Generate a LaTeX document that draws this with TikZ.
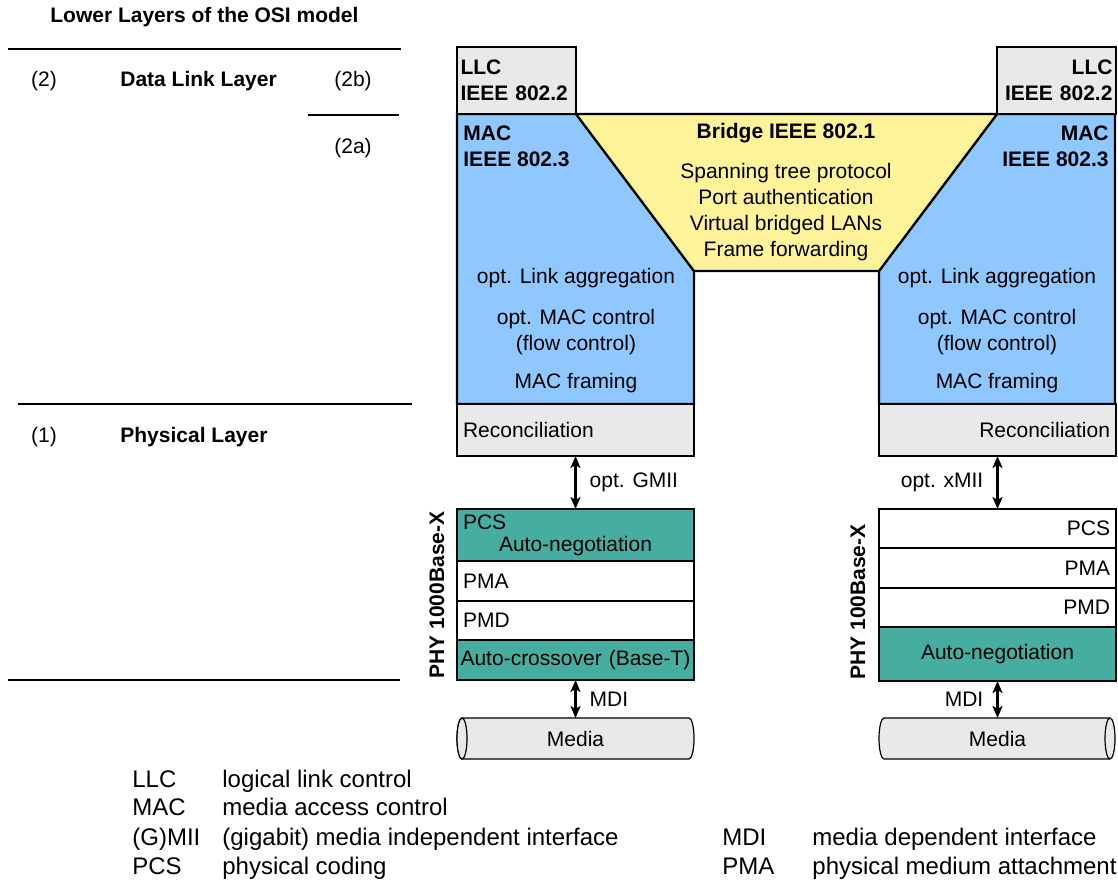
\documentclass[tikz,border=0pt]{standalone}
\usepackage{fontspec}
\setmainfont{Liberation Sans}
\usetikzlibrary{arrows.meta}
\definecolor{llcgray}{RGB}{233,233,233}
\definecolor{macblue}{RGB}{143,199,255}
\definecolor{bridgeyellow}{RGB}{255,243,153}
\definecolor{phyteal}{RGB}{70,174,160}
\tikzset{
  osi_txt/.style = {inner sep=0pt, font=\fontsize{10.5}{13}\selectfont},
  osi_bold/.style = {osi_txt, font=\fontsize{10.5}{13}\selectfont\bfseries},
  layer/.style = {draw=black, line width=1.1pt, anchor=north west,
    inner xsep=3pt, inner ysep=2pt, outer sep=0pt, text width=112.5pt,
    font=\fontsize{10.5}{13}\selectfont},
  layer_l/.style = {layer, align=left, minimum height=#1},% texte a gauche
  layer_r/.style = {layer, align=right, minimum height=#1},% texte a droite
  layer_c/.style = {layer, align=center, minimum height=#1},
  llc/.style = {layer, text width=56pt, inner xsep=1.75pt, minimum height=33.5pt,
    fill=llcgray, font=\fontsize{10.5}{13}\selectfont\bfseries},
  media/.style = {inner sep=0pt, outer sep=0pt, anchor=north west,
    minimum width=118.5pt, minimum height=20.5pt,
    font=\fontsize{10.5}{13}\selectfont},
  cyl/.style = {fill=llcgray, draw=black, line width=0.6pt},
  link/.style = {{Stealth[length=6pt, width=5pt, inset=1.5pt]}-{Stealth[length=6pt, width=5pt, inset=1.5pt]},
    line width=1.2pt},
  rule/.style = {line width=1.1pt},
  legend/.style = {anchor=base west, inner sep=0pt,
    font=\fontsize{12}{14}\selectfont}
}

\begin{document}
\begin{tikzpicture}[x=0.5pt, y=-0.5pt]
\useasboundingbox (0,0) rectangle (1118,879);

% OSI column
\node [osi_bold, anchor=west] (title) at (50,17) {Lower Layers of the OSI model};
\draw [rule] (8,49) -- (401,49);
\node [osi_txt] (l2) at (44,81) {(2)};
\node [osi_bold, anchor=west] (dll) at (120,81) {Data Link Layer};
\node [osi_txt] (l2b) at (353,81) {(2b)};
\draw [rule] (308,115) -- (399,115);
\node [osi_txt] (l2a) at (353,148) {(2a)};
\draw [rule] (18,404) -- (412,404);
\node [osi_txt] (l1) at (44,437) {(1)};
\node [osi_bold, anchor=west] (phl) at (120,437) {Physical Layer};
\draw [rule] (8,680) -- (400,680);

% MAC and bridge
\draw [fill=macblue, line width=1.1pt] (457,114) -- (576,114) -- (694,271)
  -- (694,404) -- (457,404) -- cycle;
\draw [fill=macblue, line width=1.1pt] (1115,114) -- (997,114) -- (879,271)
  -- (879,404) -- (1115,404) -- cycle;
\draw [fill=bridgeyellow, line width=1.1pt] (576,114) -- (997,114)
  -- (879,271) -- (694,271) -- cycle;

\node [llc, align=left] (llcL) at (457,47) {LLC\\IEEE 802.2};
\node [llc, align=right] (llcR) at (997,47) {LLC\\IEEE 802.2};

\node [osi_bold, anchor=west, align=left] (macL) at (463,146) {MAC\\IEEE 802.3};
\node [osi_bold, anchor=east, align=right] (macR) at (1109,146) {MAC\\IEEE 802.3};
\node [osi_bold] (bridge) at (786,133) {Bridge IEEE 802.1};
\node [osi_txt, align=center] (bridgefn) at (786,212)
  {Spanning tree protocol\\Port authentication\\Virtual bridged LANs\\Frame forwarding};

\node [osi_txt] (aggL) at (576,278) {opt. Link aggregation};
\node [osi_txt, align=center] (ctrlL) at (576,332) {opt. MAC control\\(flow control)};
\node [osi_txt] (frmL) at (576,383) {MAC framing};
\node [osi_txt] (aggR) at (997,278) {opt. Link aggregation};
\node [osi_txt, align=center] (ctrlR) at (997,332) {opt. MAC control\\(flow control)};
\node [osi_txt] (frmR) at (997,383) {MAC framing};

\node [layer_l=26pt, fill=llcgray] (recL) at (457,404) {Reconciliation};
\node [layer_r=26pt, fill=llcgray] (recR) at (879,404) {Reconciliation};

% PHY 1000Base-X
\node [layer_c=26.5pt, fill=phyteal] (pcsL) at (457,509)
  {PCS\hspace{0pt plus 1filll}\mbox{}\\[-2pt]Auto-negotiation};
\node [layer_l=20pt, fill=white] (pmaL) at (457,561) {PMA};
\node [layer_l=19.5pt, fill=white] (pmdL) at (457,601) {PMD};
\node [layer_c=20pt, fill=phyteal, text width=117.5pt, inner xsep=0.5pt] (acL)
  at (457,640) {Auto-crossover (Base-T)};
\node [osi_bold, rotate=90] (phyL) at (437,595) {PHY 1000Base-X};

% PHY 100Base-X
\node [layer_r=19.5pt, fill=white] (pcsR) at (879,509) {PCS};
\node [layer_r=20pt, fill=white] (pmaR) at (879,548) {PMA};
\node [layer_r=19.5pt, fill=white] (pmdR) at (879,588) {PMD};
\node [layer_c=27pt, fill=phyteal] (anR) at (879,627) {Auto-negotiation};
\node [osi_bold, rotate=90] (phyR) at (858,602) {PHY 100Base-X};

% media
\draw [cyl] (462,718) -- (689,718)
  arc [start angle=90, end angle=-90, x radius=2.5pt, y radius=10.25pt]
  -- (462,759)
  arc [start angle=-90, end angle=-270, x radius=2.5pt, y radius=10.25pt] -- cycle;
\draw [cyl] (462,738.5) ellipse [x radius=2.5pt, y radius=10.25pt];
\draw [cyl] (884,718) -- (1110,718)
  arc [start angle=90, end angle=-90, x radius=2.5pt, y radius=10.25pt]
  -- (884,759)
  arc [start angle=-90, end angle=-270, x radius=2.5pt, y radius=10.25pt] -- cycle;
\draw [cyl] (1110,718) arc [start angle=90, end angle=270, x radius=2.5pt, y radius=10.25pt];
\node [media] (mediaL) at (457,718) {Media};
\node [media] (mediaR) at (879,718) {Media};

\draw [link] (recL) -- (pcsL) node [osi_txt, midway, right, xshift=6.5pt] {opt. GMII};
\draw [link] (acL) -- (mediaL) node [osi_txt, midway, right, xshift=6.5pt] {MDI};
\draw [link] (recR) -- (pcsR) node [osi_txt, midway, left, xshift=-6.5pt] {opt. xMII};
\draw [link] (anR) -- (mediaR) node [osi_txt, midway, left, xshift=-6.5pt] {MDI};

% legend
\node [legend] (kLLC) at (132,787) {LLC};
\node [legend] (dLLC) at (222,787) {logical link control};
\node [legend] (kMAC) at (132,815) {MAC};
\node [legend] (dMAC) at (222,815) {media access control};
\node [legend] (kMII) at (132,845) {(G)MII};
\node [legend] (dMII) at (222,845) {(gigabit) media independent interface};
\node [legend] (kPCS) at (132,874) {PCS};
\node [legend] (dPCS) at (222,874) {physical coding};
\node [legend] (kMDI) at (722,845) {MDI};
\node [legend] (dMDI) at (812,845) {media dependent interface};
\node [legend] (kPMA) at (722,874) {PMA};
\node [legend] (dPMA) at (812,874) {physical medium attachment};
\end{tikzpicture}
\end{document}
